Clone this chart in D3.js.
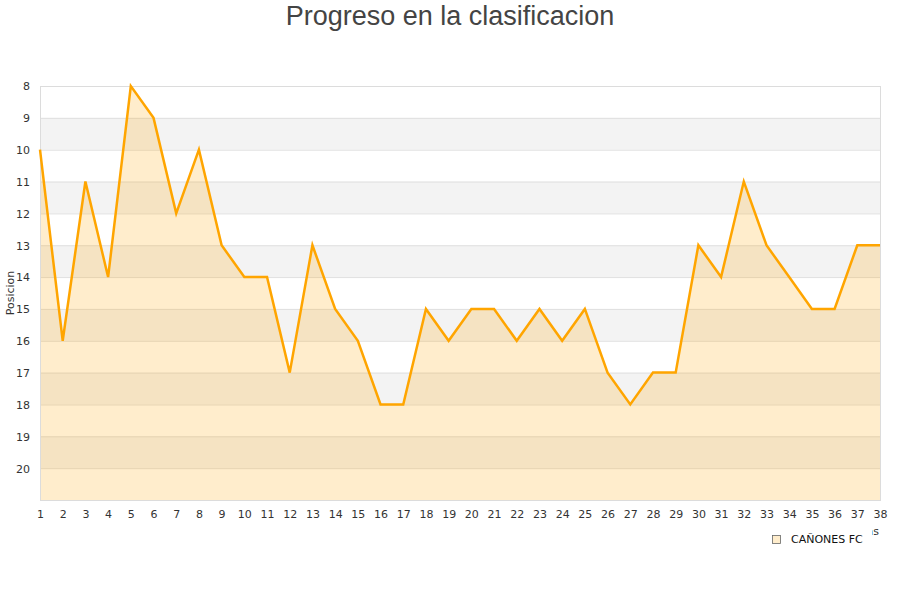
<!DOCTYPE html>
<html>
<head>
<meta charset="utf-8">
<script src="https://cdn.jsdelivr.net/npm/d3@7"></script>
<style>
  body { margin: 0; background: #fff; }
  svg { display: block; }
</style>
</head>
<body>
<svg id="chart"></svg>
<script>
const translate = (x, y) => `translate(${x}, ${y})`;

// Data
const TITLE = 'Progreso en la clasificacion';
const TEAM = 'CAÑONES FC';
const jornadas = d3.range(1, 39);
const posiciones = [10, 16, 11, 14, 8, 9, 12, 10, 13, 14, 14, 17, 13, 15, 16, 18, 18, 15, 16, 15,
  15, 16, 15, 16, 15, 17, 18, 17, 17, 13, 14, 11, 13, 14, 15, 15, 13, 13];
const yTicks = d3.range(8, 21);

// Dimensions
const WIDTH = 900;
const HEIGHT = 600;
const PLOT_LEFT = 40;
const PLOT_RIGHT = 880;
const PLOT_TOP = 86;
const PLOT_BOTTOM = 500;

const LINE_COLOR = '#ffa500';
const FILL_COLOR = 'rgba(255, 165, 0, 0.2)';
const GRID_COLOR = '#e0e0e0';
const BAND_COLOR = '#f3f3f3';
const FONT = '"DejaVu Sans", sans-serif';

const svg = d3.select('#chart')
  .attr('width', WIDTH)
  .attr('height', HEIGHT)
  .style('font-family', FONT);

const data = jornadas.map((j, i) => ({ jornada: j, pos: posiciones[i] }));

const x = d3.scaleLinear()
  .domain([1, 38])
  .range([PLOT_LEFT, PLOT_RIGHT]);

const y = d3.scaleLinear()
  .domain([8, 21])
  .range([PLOT_TOP, PLOT_BOTTOM]);

// Alternating bands (gray on rows 9-10, 11-12, ...)
svg.append('g')
  .selectAll('rect')
  .data(yTicks.filter(t => t % 2 === 1))
  .enter()
  .append('rect')
  .attr('x', PLOT_LEFT)
  .attr('y', t => y(t))
  .attr('width', PLOT_RIGHT - PLOT_LEFT)
  .attr('height', y(1) - y(0))
  .attr('fill', BAND_COLOR);

// Horizontal grid lines
svg.append('g')
  .selectAll('line')
  .data(yTicks)
  .enter()
  .append('line')
  .attr('x1', PLOT_LEFT)
  .attr('x2', PLOT_RIGHT)
  .attr('y1', t => y(t) + 0.5)
  .attr('y2', t => y(t) + 0.5)
  .attr('stroke', GRID_COLOR)
  .attr('stroke-width', 1);

// Area below the line
const area = d3.area()
  .x(d => x(d.jornada))
  .y0(PLOT_BOTTOM)
  .y1(d => y(d.pos));

svg.append('path')
  .datum(data)
  .attr('d', area)
  .attr('fill', FILL_COLOR);

// Plot border
svg.append('rect')
  .attr('x', PLOT_LEFT + 0.5)
  .attr('y', PLOT_TOP + 0.5)
  .attr('width', PLOT_RIGHT - PLOT_LEFT)
  .attr('height', PLOT_BOTTOM - PLOT_TOP)
  .attr('fill', 'none')
  .attr('stroke', '#dcdcdc');

// Line
const line = d3.line()
  .x(d => x(d.jornada))
  .y(d => y(d.pos));

svg.append('path')
  .datum(data)
  .attr('d', line)
  .attr('fill', 'none')
  .attr('stroke', LINE_COLOR)
  .attr('stroke-width', 2.5)
  .attr('stroke-linejoin', 'miter');

// Y axis labels
const yAxis = svg.append('g')
  .attr('transform', translate(PLOT_LEFT - 10, 0))
  .call(d3.axisLeft(y).tickValues(yTicks).tickSize(0).tickPadding(0));
yAxis.select('.domain').remove();
yAxis.selectAll('text')
  .attr('font-family', FONT)
  .attr('font-size', 11)
  .attr('fill', '#333')
  .attr('dy', '0.35em');

// X axis labels
const xAxis = svg.append('g')
  .attr('transform', translate(0, PLOT_BOTTOM + 10))
  .call(d3.axisBottom(x).tickValues(jornadas).tickFormat(d3.format('d')).tickSize(0).tickPadding(0));
xAxis.select('.domain').remove();
xAxis.selectAll('text')
  .attr('font-family', FONT)
  .attr('font-size', 11)
  .attr('fill', '#333');

// Axis titles
svg.append('text')
  .attr('transform', `${translate(14, y(14.5))} rotate(-90)`)
  .attr('text-anchor', 'middle')
  .attr('font-size', 11)
  .attr('fill', '#333')
  .text('Posicion');

svg.append('text')
  .attr('x', 879)
  .attr('y', 535)
  .attr('text-anchor', 'end')
  .attr('font-size', 11)
  .attr('fill', '#333')
  .text('Jornadas');

// Legend (white box partly hides the x axis title)
const legend = svg.append('g').attr('transform', translate(762, 527));
legend.append('rect')
  .attr('width', 110)
  .attr('height', 26)
  .attr('fill', '#fff');
legend.append('rect')
  .attr('x', 10.5)
  .attr('y', 8.5)
  .attr('width', 8)
  .attr('height', 8)
  .attr('fill', '#ffedcc')
  .attr('stroke', '#666')
  .attr('stroke-width', 0.8);
legend.append('text')
  .attr('x', 29)
  .attr('y', 16)
  .attr('font-size', 11)
  .attr('fill', '#111')
  .text(TEAM);

// Title
svg.append('text')
  .attr('x', WIDTH / 2)
  .attr('y', 25)
  .attr('text-anchor', 'middle')
  .attr('font-family', '"Liberation Sans", Arial, sans-serif')
  .attr('font-size', 27)
  .attr('fill', '#444')
  .text(TITLE);
</script>
</body>
</html>
